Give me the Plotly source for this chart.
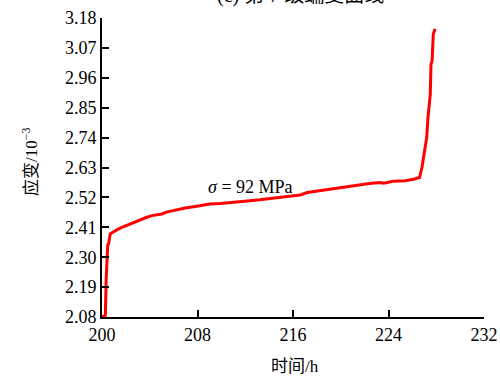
import plotly.graph_objects as go

# time (h) and strain (10^-3)
time_h = [200.0, 200.28, 200.35, 200.42, 200.48, 200.55, 200.69, 200.9, 201.11, 201.4, 201.67, 201.95,
          202.23, 202.6, 203.06, 203.4, 203.7, 204.18, 204.6, 205.02, 205.4, 205.86, 206.4, 206.97,
          207.4, 207.81, 208.2, 208.65, 209.06, 209.9, 210.7, 211.5, 212.4, 213.2, 214.1, 215.0,
          215.8, 216.6, 217.2, 218.3, 219.1, 219.9, 220.8, 221.6, 222.4, 223.3, 223.6, 224.4,
          225.4, 226.1, 226.6, 226.8, 226.9, 227.06, 227.2, 227.3, 227.5, 227.56, 227.65, 227.75, 227.9]
strain = [2.08, 2.086, 2.22, 2.337, 2.345, 2.349, 2.386, 2.392, 2.398, 2.404, 2.410, 2.415,
          2.422, 2.428, 2.437, 2.443, 2.446, 2.453, 2.455, 2.459, 2.466, 2.471, 2.475, 2.481,
          2.484, 2.486, 2.489, 2.493, 2.496, 2.498, 2.502, 2.505, 2.508, 2.511, 2.516, 2.519,
          2.526, 2.529, 2.538, 2.545, 2.551, 2.557, 2.561, 2.567, 2.571, 2.575, 2.572, 2.579,
          2.581, 2.587, 2.593, 2.63, 2.655, 2.69, 2.74, 2.81, 2.90, 3.01, 3.02, 3.12, 3.14]

x_ticks = [200, 208, 216, 224, 232]
y_ticks = [2.08, 2.19, 2.30, 2.41, 2.52, 2.63, 2.74, 2.85, 2.96, 3.07, 3.18]
y_tick_labels = [f"{v:.2f}" for v in y_ticks]

title_text = "(c) 第 7 级蠕变曲线"
x_title = "时间/h"
y_title = "应变/10<sup>−3</sup>"
stress_label = "<i>σ</i> = 92 MPa"

serif = "Liberation Serif, Noto Sans CJK SC, serif"

fig = go.Figure()
fig.add_trace(go.Scatter(x=time_h, y=strain, mode="lines",
                         line=dict(color="#ff0000", width=3), showlegend=False))

fig.update_layout(
    width=500, height=378,
    margin=dict(l=102, r=16, t=18, b=61),
    paper_bgcolor="white", plot_bgcolor="white",
    font=dict(family=serif, size=18, color="black"),
)
fig.update_xaxes(range=[200, 232], tickvals=x_ticks, ticks="inside", ticklen=7,
                 tickwidth=1.5, tickcolor="black", showline=True, linecolor="black",
                 linewidth=2, showgrid=False, zeroline=False, automargin=False,
                 tickfont=dict(family=serif, size=18))
fig.update_yaxes(range=[2.08, 3.18], tickvals=y_ticks, ticktext=y_tick_labels,
                 ticks="inside", ticklen=7, tickwidth=1.5, tickcolor="black",
                 showline=True, linecolor="black", linewidth=2, showgrid=False,
                 zeroline=False, automargin=False, tickfont=dict(family=serif, size=18))

fig.add_annotation(x=212.4, y=2.557, text=stress_label, showarrow=False,
                   font=dict(family=serif, size=18))
fig.add_annotation(xref="paper", yref="paper", x=0.52, y=1.074, text=title_text,
                   showarrow=False, yanchor="middle", font=dict(family=serif, size=20))
fig.add_annotation(xref="paper", yref="paper", x=0.506, y=-0.165, text=x_title,
                   showarrow=False, yanchor="middle", font=dict(family=serif, size=17))
fig.add_annotation(xref="paper", yref="paper", x=-0.19, y=0.52, text=y_title,
                   showarrow=False, textangle=-90, xanchor="center",
                   font=dict(family=serif, size=17))

fig.write_html("out.html")
